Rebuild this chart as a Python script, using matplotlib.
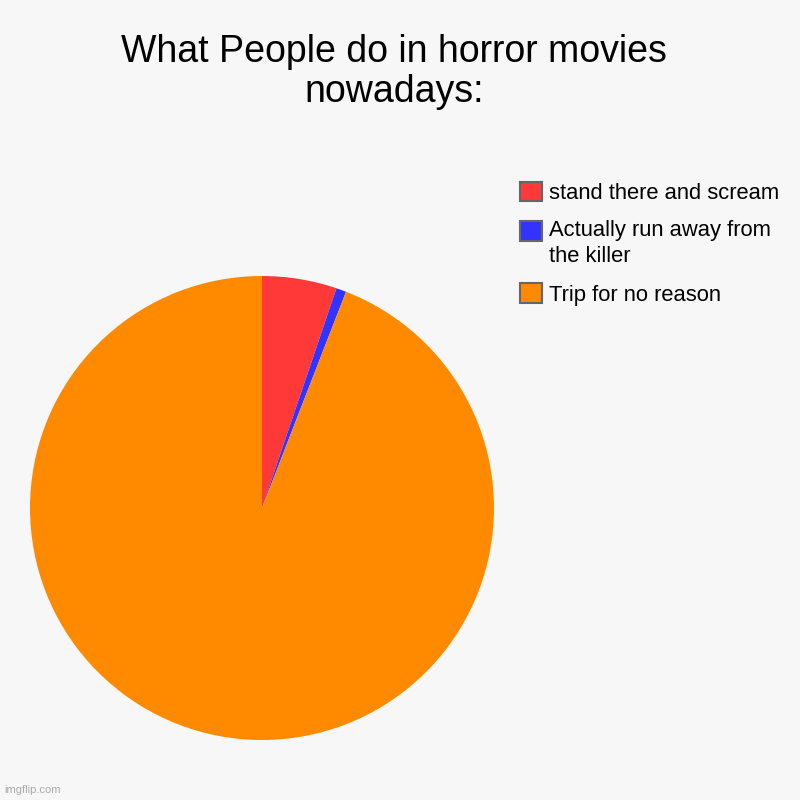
import matplotlib.pyplot as plt
from matplotlib.patches import Patch

# 数据
labels = ['stand there and scream', 'Actually run away from\nthe killer', 'Trip for no reason']
values = [5.2, 0.7, 94.1]
colors = ['#FF3838', '#3333FF', '#FF8A00']

bg = '#F7F7F7'
fig = plt.figure(figsize=(8, 8), dpi=100, facecolor=bg)

ax = fig.add_axes([0.0375, 0.075, 0.58, 0.58])
ax.set_facecolor(bg)
ax.pie(values, colors=colors, startangle=90, counterclock=False,
       wedgeprops={'linewidth': 0})
ax.set_xlim(-1, 1)
ax.set_ylim(-1, 1)
ax.set_aspect('equal')

fig.text(0.493, 0.91, 'What People do in horror movies\nnowadays:', ha='center', va='center',
         fontsize=27, family='Liberation Sans', linespacing=1.13)

handles = [Patch(facecolor=c, edgecolor='#666666', linewidth=1.5) for c in colors]
leg = fig.legend(handles, labels, loc='upper left', bbox_to_anchor=(0.65, 0.773),
                 frameon=False, prop={'family': 'Liberation Sans', 'size': 15.8},
                 handlelength=1.0, handleheight=1.0, handletextpad=0.32, labelspacing=0.72,
                 borderpad=0, borderaxespad=0)
for t in leg.get_texts():
    t.set_linespacing(1.36)
# 两行标签的色块对齐第一行
p = leg.legend_handles[1]
p.set_y(p.get_y() + 9.5)

fig.text(0.005, 0.006, 'imgflip.com', color='#AAAAAA', fontsize=8,
         family='Liberation Sans', ha='left', va='bottom')

plt.savefig('out.png', facecolor=bg)
